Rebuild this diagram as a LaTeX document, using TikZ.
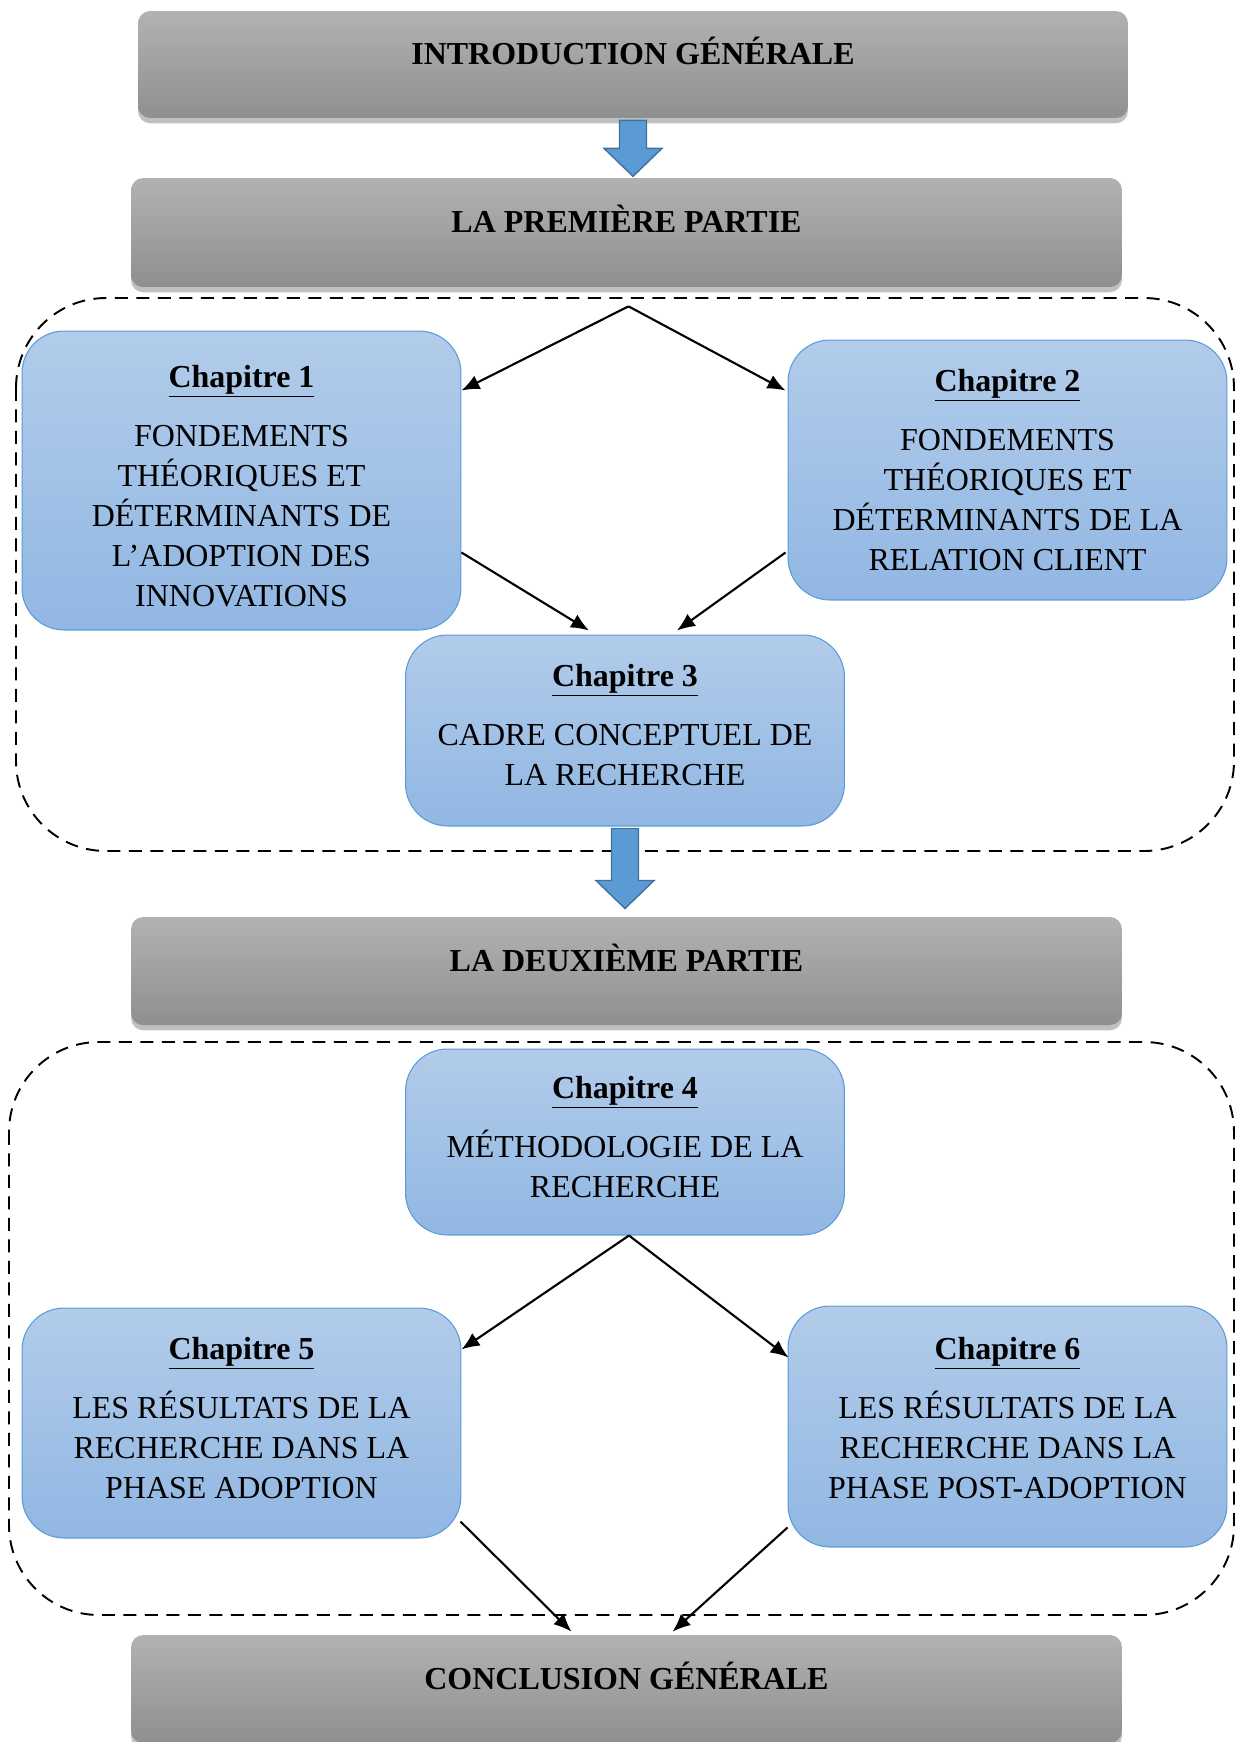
\documentclass[tikz,border=0pt]{standalone}
\usepackage{fontspec}
\setmainfont{Liberation Serif}
\usetikzlibrary{arrows.meta, calc, shadows, positioning}

\definecolor{hdrtop}{RGB}{178,178,178}
\definecolor{hdrbot}{RGB}{143,143,143}
\definecolor{chtop}{RGB}{178,204,234}
\definecolor{chbot}{RGB}{145,183,227}
\definecolor{chline}{RGB}{91,155,213}
\definecolor{arrfill}{RGB}{91,155,213}
\definecolor{arrline}{RGB}{65,113,156}

% big blue arrow below a node: node name, shaft length
\newcommand{\blockdown}[2]{%
  \draw[blockarr] ($(#1.south)+(-13.5,2)$) -- ++(27,0) -- ++(0,#2) -- ++(15.5,0)
    -- ++(-29,28) -- ++(-29,-28) -- ++(15.5,0) -- cycle;}
% invisible strut: lifts the text block in its box
\newcommand{\lift}[1]{\rule[-#1]{0pt}{0pt}}

\begin{document}
\begin{tikzpicture}[x=0.02cm, y=-0.02cm,
    txt/.style={font=\fontsize{18.2}{22.8}\selectfont},
    hdr/.style={txt, font=\fontsize{18.2}{22.8}\selectfont\bfseries, rounded corners=0.24cm,
      top color=hdrtop, bottom color=hdrbot,
      drop shadow={shadow xshift=0pt, shadow yshift=-3pt, opacity=0.45, fill=black!55},
      minimum width=19.82cm, minimum height=2.16cm, inner sep=0pt,
      text height=0.35cm, text depth=0.35cm},
    chbox/.style={txt, rounded corners=0.84cm, draw=chline, line width=0.6pt,
      top color=chtop, bottom color=chbot, align=center,
      minimum width=8.78cm, inner sep=0pt},
    region/.style={dash pattern=on 0.26cm off 0.17cm, line width=1.1pt, rounded corners=1.8cm},
    link/.style={-{Latex[length=0.36cm,width=0.3cm]}, line width=1.2pt},
    blockarr/.style={fill=arrfill, draw=arrline, line width=0.8pt}]
  \useasboundingbox (0,0) rectangle (1237,1742);

  % Dashed frames of the two parts
  \draw[region] (16,298) rectangle (1234,851);
  \draw[region] (9,1042) rectangle (1234,1615);

  % Headers
  \node[hdr, minimum width=19.8cm, minimum height=2.14cm] (intro) at (633,64.5) {INTRODUCTION GÉNÉRALE};
  \node[hdr, minimum height=2.18cm] (prem) at (626.5,232.5) {LA PREMIÈRE PARTIE};
  \node[hdr] (deux) at (626.5,971) {LA DEUXIÈME PARTIE};
  \node[hdr] (concl) at (626.5,1689) {CONCLUSION GÉNÉRALE};

  % Chapters of part one
  \node[chbox, minimum height=5.98cm] (ch1) at (241.5,480.5)
    {\rule{0pt}{0.66cm}\underline{\textbf{Chapitre 1}}\\[0.38cm] FONDEMENTS\\THÉORIQUES ET\\DÉTERMINANTS DE\\L’ADOPTION DES\\INNOVATIONS};
  \node[chbox, minimum height=5.2cm] (ch2) at (1007.5,470)
    {\underline{\textbf{Chapitre 2}}\\[0.38cm] FONDEMENTS\\THÉORIQUES ET\\DÉTERMINANTS DE LA\\RELATION CLIENT};
  \node[chbox, minimum height=3.82cm] (ch3) at (625,730.5)
    {\underline{\textbf{Chapitre 3}}\\[0.38cm] CADRE CONCEPTUEL DE\\LA RECHERCHE\lift{0.22cm}};

  % Chapters of part two
  \node[chbox, minimum height=3.72cm] (ch4) at (625,1142)
    {\underline{\textbf{Chapitre 4}}\\[0.38cm] MÉTHODOLOGIE DE LA\\RECHERCHE\lift{0.22cm}};
  \node[chbox, minimum height=4.6cm] (ch5) at (241.5,1423)
    {\underline{\textbf{Chapitre 5}}\\[0.38cm] LES RÉSULTATS DE LA\\RECHERCHE DANS LA\\PHASE ADOPTION\lift{0.22cm}};
  \node[chbox, minimum height=4.82cm] (ch6) at (1007.5,1426.5)
    {\underline{\textbf{Chapitre 6}}\\[0.38cm] LES RÉSULTATS DE LA\\RECHERCHE DANS LA\\PHASE POST-ADOPTION\lift{0.36cm}};

  % Links
  \coordinate (split1) at ($(prem.south)+(2,19)$);
  \draw[link] (split1) -- ($(ch1.north east)+(0,60)$);
  \draw[link] (split1) -- ($(ch2.north west)+(-2,51)$);
  \draw[link] ($(ch1.south east)+(0,-78)$) -- ($(ch3.north)+(-36,-4)$);
  \draw[link] ($(ch2.south west)+(-2,-48)$) -- ($(ch3.north)+(52,-4)$);
  \draw[link] ($(ch4.south)+(4,0)$) -- ($(ch5.north east)+(0,42)$);
  \draw[link] ($(ch4.south)+(4,0)$) -- ($(ch6.north west)+(1,52)$);
  \draw[link] ($(ch5.south east)+(-1,-17)$) -- ($(concl.north)+(-55,-3)$);
  \draw[link] ($(ch6.south west)+(0,-20)$) -- ($(concl.north)+(46,-3)$);

  % Block arrows between parts
  \blockdown{intro}{28}
  \blockdown{ch3}{52}
\end{tikzpicture}
\end{document}
